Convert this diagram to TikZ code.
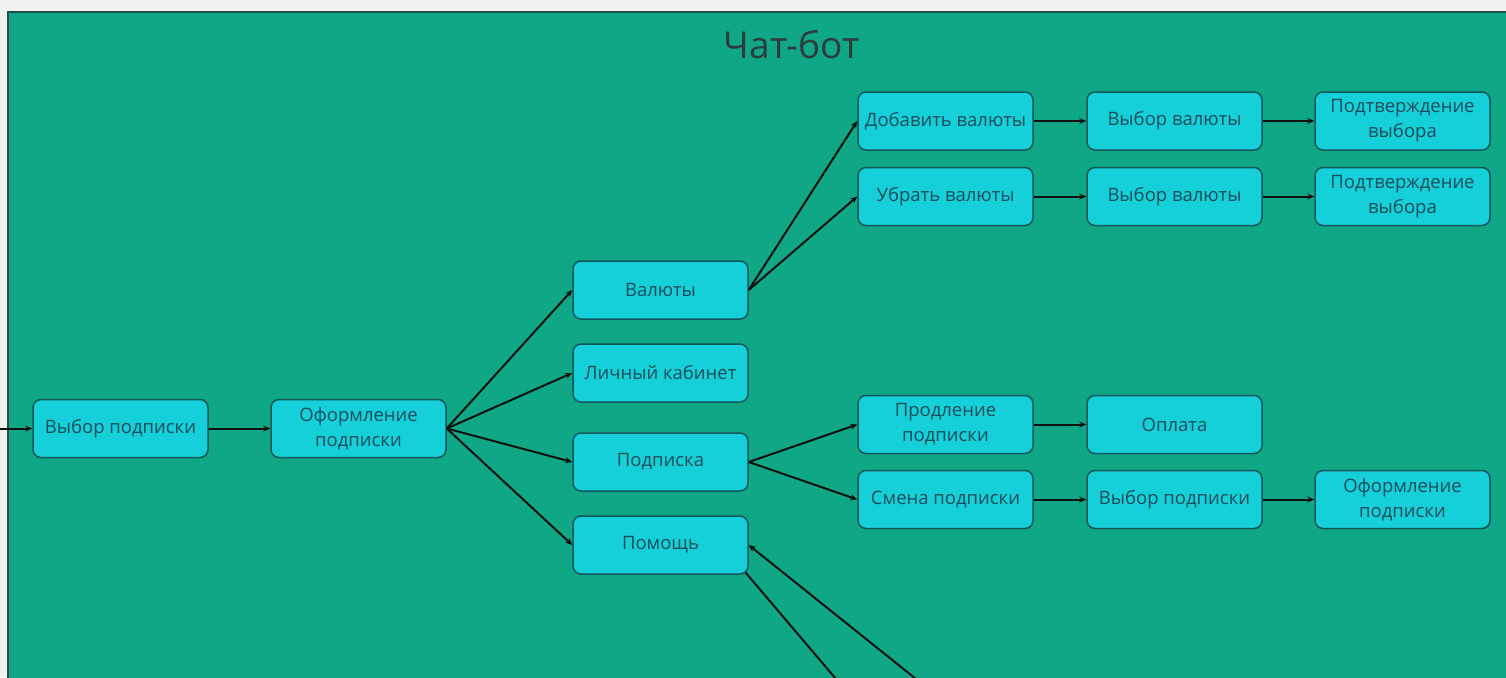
\documentclass[tikz,border=0pt]{standalone}
\usepackage{fontspec}
\setmainfont{Open Sans}
\usetikzlibrary{arrows.meta}
\definecolor{pagebg}{HTML}{F1F1F1}
\definecolor{frame}{HTML}{0FA785}
\definecolor{frameline}{HTML}{1F4F45}
\definecolor{boxfill}{HTML}{15CFD9}
\definecolor{boxline}{HTML}{10575C}
\definecolor{boxtext}{HTML}{1D4C5A}
\definecolor{titletext}{HTML}{2E3B3C}
\definecolor{arrowc}{HTML}{111111}
\tikzset{
  stepbox/.style={draw=boxline, line width=1.5pt, fill=boxfill, rounded corners=8pt,
    minimum width=175pt, minimum height=58pt, inner sep=1pt, align=center,
    text=boxtext, font=\fontsize{18.5}{25}\selectfont},
  link/.style={draw=arrowc, line width=2pt, -{Stealth[length=7pt,width=6pt]}},
  plainlink/.style={draw=arrowc, line width=2pt},
}
\begin{document}
\begin{tikzpicture}[x=1pt,y={(0pt,-1pt)}]
\useasboundingbox (0,0) rectangle (1506,677);
\fill[pagebg] (0,0) rectangle (1506,677);
\fill[frame] (8,12) rectangle (1510,680);
\draw[frameline, line width=1.8pt] (8,680) -- (8,12) -- (1510,12);
\node[text=titletext, font=\fontsize{37}{44}\selectfont] (title) at (792,45) {Чат-бот};

\node[stepbox] (vp1) at (120.5,428.5) {Выбор подписки};
\node[stepbox] (op1) at (358.5,428.5) {Оформление\\подписки};
\node[stepbox] (val) at (660.5,290) {Валюты};
\node[stepbox] (lk) at (660.5,373) {Личный кабинет};
\node[stepbox] (pod) at (660.5,462) {Подписка};
\node[stepbox] (help) at (660.5,545) {Помощь};
\node[stepbox] (add) at (945.5,121) {Добавить валюты};
\node[stepbox] (rem) at (945.5,196.5) {Убрать валюты};
\node[stepbox] (vv1) at (1174.5,121) {Выбор валюты};
\node[stepbox] (vv2) at (1174.5,196.5) {Выбор валюты};
\node[stepbox] (pv1) at (1402.5,121) {Подтверждение\\выбора};
\node[stepbox] (pv2) at (1402.5,196.5) {Подтверждение\\выбора};
\node[stepbox] (prod) at (945.5,424.5) {Продление\\подписки};
\node[stepbox] (sm) at (945.5,499.5) {Смена подписки};
\node[stepbox] (pay) at (1174.5,424.5) {Оплата};
\node[stepbox] (vp2) at (1174.5,499.5) {Выбор подписки};
\node[stepbox] (op2) at (1402.5,499.5) {Оформление\\подписки};

\coordinate (in) at (0,428.5);
\coordinate (out1) at (836,679);
\coordinate (out2) at (916,679);

\draw[link] (in) -- (vp1.west);
\draw[link] (vp1) -- (op1);
\draw[link] (op1.east) -- (val.west);
\draw[link] (op1.east) -- (lk.west);
\draw[link] (op1.east) -- (pod.west);
\draw[link] (op1.east) -- (help.west);
\draw[link] (val.east) -- (add.west);
\draw[link] (val.east) -- (rem.west);
\draw[link] (add) -- (vv1);
\draw[link] (vv1) -- (pv1);
\draw[link] (rem) -- (vv2);
\draw[link] (vv2) -- (pv2);
\draw[link] (pod.east) -- (prod.west);
\draw[link] (pod.east) -- (sm.west);
\draw[link] (prod) -- (pay);
\draw[link] (sm) -- (vp2);
\draw[link] (vp2) -- (op2);
\draw[plainlink] (help.south east) ++(-3,-2) -- (out1);
\draw[link] (out2) -- (help.east);
\end{tikzpicture}
\end{document}
